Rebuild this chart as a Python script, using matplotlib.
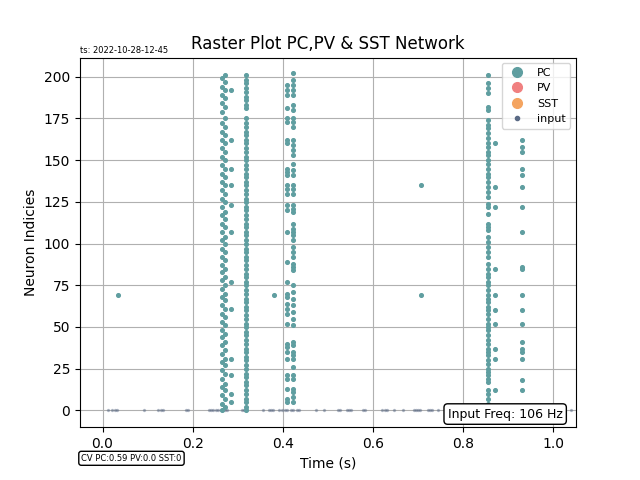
import matplotlib
matplotlib.use("Agg")
from matplotlib import pyplot as plt
from matplotlib.lines import Line2D

# spike data (time in s, neuron index)
input_times = [0.013, 0.020, 0.027, 0.031, 0.091, 0.124, 0.129, 0.133, 0.184, 0.189,
               0.236, 0.240, 0.244, 0.251, 0.256, 0.262, 0.267, 0.271, 0.276, 0.309,
               0.313, 0.318, 0.356, 0.369, 0.373, 0.378, 0.391, 0.398, 0.404, 0.409,
               0.418, 0.422, 0.431, 0.436, 0.473, 0.491, 0.522, 0.527, 0.542, 0.547,
               0.551, 0.578, 0.582, 0.620, 0.627, 0.631, 0.647, 0.667, 0.691, 0.696,
               0.700, 0.704, 0.722, 0.727, 0.731, 0.744, 0.768, 0.791, 0.813, 0.842,
               0.867, 0.889, 0.915, 0.944, 0.968, 0.991, 1.040]

burst_a1 = [0, 4, 9, 14, 19, 24, 29, 34, 39, 44, 48, 53, 58, 63, 68, 73, 78, 83, 87,
            92, 97, 102, 107, 112, 117, 122, 127, 132, 137, 142, 147, 152, 157, 162,
            167, 172, 179, 184, 189, 194, 199]
burst_a2 = [2, 7, 12, 16, 22, 27, 31, 36, 41, 46, 51, 56, 61, 66, 70, 75, 80, 85, 90,
            95, 100, 104, 110, 115, 119, 125, 130, 135, 140, 145, 150, 155, 160, 165,
            170, 175, 182, 187, 192, 197, 201]
burst_a3 = [5, 10, 21, 31, 61, 77, 107, 123, 135, 145, 162, 192]
burst_b = [0, 2, 5, 7, 10, 12, 15, 17, 20, 22, 25, 27, 30, 32, 35, 37, 40, 42, 45, 47,
           50, 52, 55, 57, 60, 62, 65, 67, 70, 72, 75, 77, 80, 82, 85, 87, 90, 92, 95,
           97, 100, 102, 105, 107, 110, 112, 115, 117, 120, 122, 125, 127, 130, 132,
           135, 137, 140, 142, 145, 147, 150, 152, 155, 157, 160, 162, 165, 167, 170,
           172, 175, 181, 183, 186, 188, 191, 193, 196, 198, 201]
burst_c1 = [5, 7, 13, 19, 21, 31, 35, 38, 40, 52, 58, 61, 64, 68, 70, 77, 89, 107, 120,
            123, 130, 133, 135, 141, 143, 145, 160, 162, 173, 175, 181, 189, 192, 195]
burst_c2 = [5, 8, 11, 13, 19, 21, 26, 31, 33, 35, 39, 41, 51, 55, 59, 63, 67, 71, 75,
            84, 86, 88, 92, 95, 98, 102, 105, 107, 109, 112, 119, 121, 123, 130, 133,
            135, 141, 144, 148, 153, 156, 159, 162, 170, 173, 175, 180, 183, 189, 192,
            195, 198, 202]
burst_d1 = [4, 7, 10, 12, 17, 19, 21, 23, 25, 28, 30, 33, 35, 37, 40, 42, 45, 48, 50,
            52, 55, 58, 60, 62, 65, 67, 69, 72, 75, 77, 80, 82, 85, 88, 92, 95, 98, 101,
            104, 108, 110, 112, 118, 122, 124, 128, 131, 134, 137, 140, 142, 145, 148,
            150, 153, 155, 158, 160, 163, 166, 169, 171, 174, 180, 182, 190, 193, 196, 201]
burst_d2 = [12, 31, 37, 52, 60, 69, 85, 122, 134, 160]
burst_e = [12, 18, 31, 35, 37, 41, 52, 60, 69, 85, 86, 107, 122, 134, 141, 145, 155,
           158, 162]
lone_times = [0.035, 0.380, 0.707, 0.707]
lone_ids = [69, 69, 135, 69]

bursts = [(0.266, burst_a1), (0.272, burst_a2), (0.284, burst_a3), (0.318, burst_b),
          (0.408, burst_c1), (0.422, burst_c2), (0.854, burst_d1), (0.871, burst_d2),
          (0.930, burst_e)]

pc_t = list(lone_times)
pc_n = list(lone_ids)
for t, ids in bursts:
    pc_t += [t] * len(ids)
    pc_n += ids

pc_col = "cadetblue"
pv_col = "lightcoral"
sst_col = "sandybrown"
inp_col = "#5a6a85"

fig, ax = plt.subplots(figsize=(6.4, 4.8), dpi=100)
ax.scatter(input_times, [0] * len(input_times), s=2, color=inp_col, alpha=0.4, zorder=3)
ax.scatter(pc_t, pc_n, s=7, color=pc_col, zorder=3)
ax.set_xlim(-0.05, 1.05)
ax.set_ylim(-10.1, 211.5)
ax.grid(True)
ax.set_xlabel("Time (s)")
ax.set_ylabel("Neuron Indicies")
ax.set_title("Raster Plot PC,PV & SST Network")

handles = [Line2D([], [], ls="", marker="o", ms=7, color=pc_col, label="PC"),
           Line2D([], [], ls="", marker="o", ms=7, color=pv_col, label="PV"),
           Line2D([], [], ls="", marker="o", ms=7, color=sst_col, label="SST"),
           Line2D([], [], ls="", marker="o", ms=3, color=inp_col, label="input")]
ax.legend(handles=handles, loc="upper right", fontsize=8)

ax.text(0.973, 0.018, "Input Freq: 106 Hz", transform=ax.transAxes, ha="right", va="bottom",
        fontsize=9, bbox=dict(boxstyle="round", fc="white", ec="black"), zorder=5)
fig.text(0.125, 0.89, "ts: 2022-10-28-12-45", fontsize=6)
fig.text(0.127, 0.04, "CV PC:0.59 PV:0.0 SST:0", fontsize=6,
         bbox=dict(boxstyle="round,pad=0.3", fc="white", ec="black"))

fig.savefig("out.png")
